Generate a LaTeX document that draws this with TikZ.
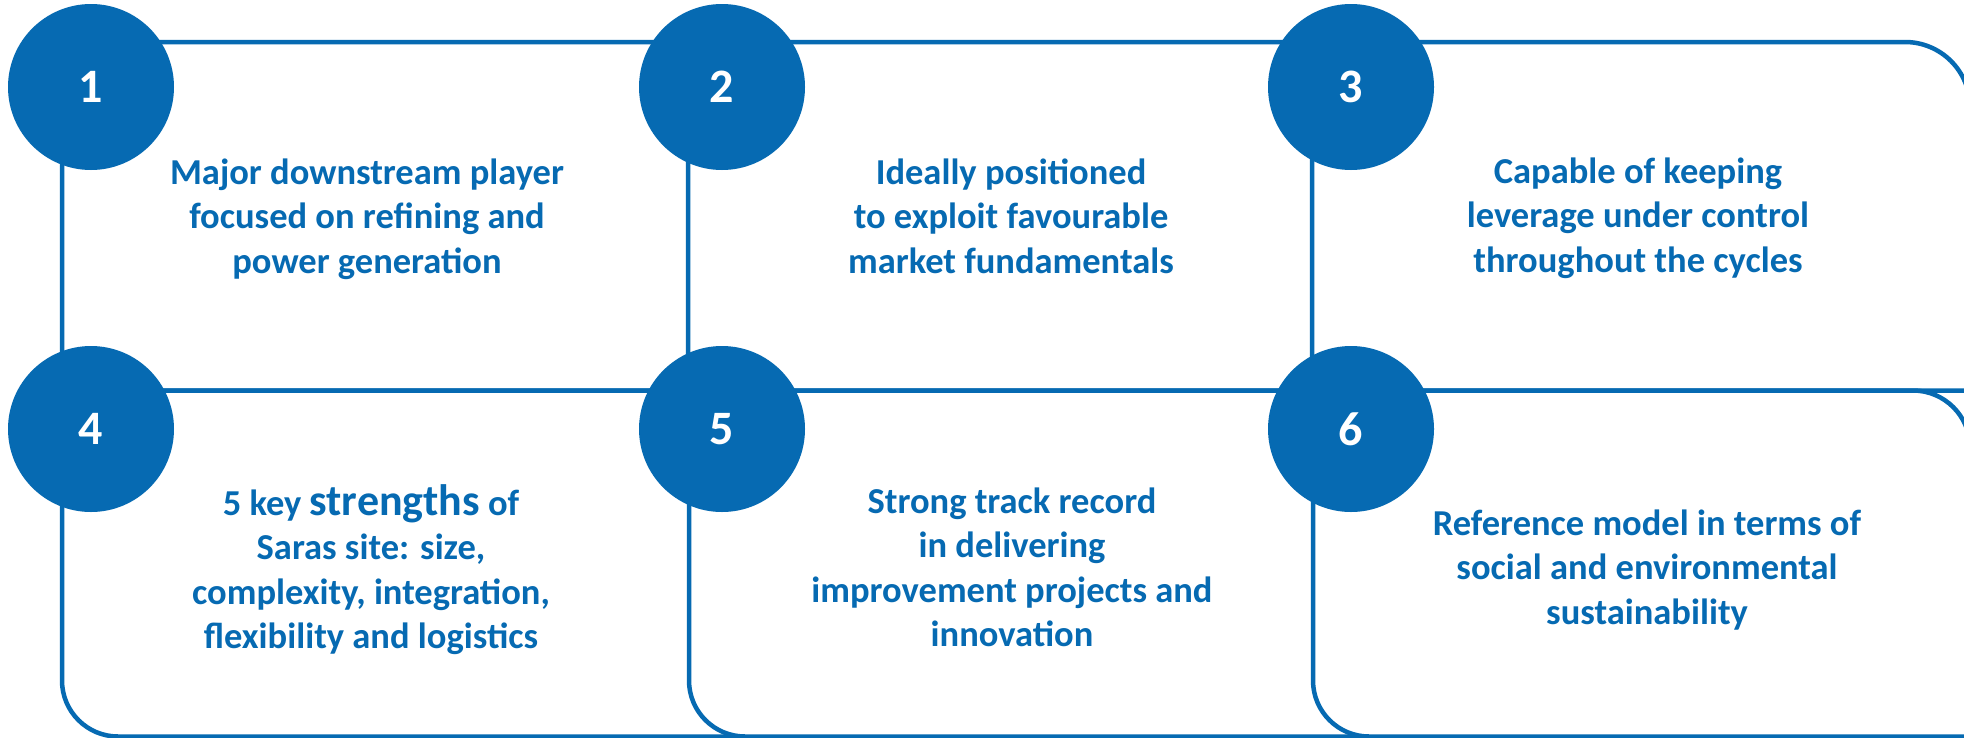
\documentclass[tikz,border=0pt]{standalone}
\usepackage{fontspec}
\setmainfont{Carlito}
\definecolor{sarasblue}{RGB}{6,106,178}
\tikzset{
  boxline/.style={draw=sarasblue, line width=4.5pt, fill=white},
  numcircle/.style={circle, fill=sarasblue, draw=none, minimum size=166pt, inner sep=0pt,
    text=white, font=\fontsize{48}{48}\selectfont\bfseries},
  desc/.style={anchor=base, inner sep=0pt, text=sarasblue,
    font=\fontsize{36.5}{44.5}\selectfont\bfseries}
}
% L R T B r(top-right) r(bottom-left)
\newcommand\sarasbox[6]{%
  \draw[boxline] (#1,#3) -- ({#2-#5},#3)
    .. controls ({#2-0.4477*#5},#3) and (#2,{#3+0.4477*#5}) .. (#2,{#3+#5})
    -- (#2,#4) -- ({#1+#6},#4)
    .. controls ({#1+0.4477*#6},#4) and (#1,{#4-0.4477*#6}) .. (#1,{#4-#6})
    -- cycle;}
\newcommand\lines[1]{\begin{tabular}[t]{@{}c@{}}#1\end{tabular}}
\begin{document}
\begin{tikzpicture}[x=1pt, y=-1pt]
\clip (0,0) rectangle (1964,737);
\fill[white] (0,0) rectangle (1964,737);
% boxes, row 1
\sarasbox{62}{780}{42}{390.5}{60}{20}
\sarasbox{688}{1400}{42}{390.5}{60}{20}
\sarasbox{1312}{1970}{42}{390.5}{65}{20}
% boxes, row 2
\sarasbox{62}{780}{390.5}{736.5}{56}{56}
\sarasbox{689}{1400}{390.5}{736.5}{56}{56}
\sarasbox{1313}{1970}{390.5}{736.5}{57}{56}
% numbered circles
\node[numcircle] (c1) at (91,87) {1};
\node[numcircle] (c2) at (722,87) {2};
\node[numcircle] (c3) at (1351,87) {3};
\node[numcircle] (c4) at (91,429) {4};
\node[numcircle] (c5) at (722,429) {5};
\node[numcircle] (c6) at (1351,429) {6};
% texts
\node[desc] (t1) at (367,184) {\lines{Major downstream player\\focused on refining and\\power generation}};
\node[desc] (t2) at (1011,184) {\lines{Ideally positioned\\to exploit favourable\\market fundamentals}};
\node[desc] (t3) at (1638,183) {\lines{Capable of keeping\\leverage under control\\throughout the cycles}};
\node[desc] (t4) at (371,515) {\lines{5 key {\fontsize{44}{44.5}\selectfont strengths} of\\Saras site: size,\\complexity, integration,\\flexibility and logistics}};
\node[desc] (t5) at (1012,513) {\lines{Strong track record\\in delivering\\improvement projects and\\innovation}};
\node[desc] (t6) at (1647,535) {\lines{Reference model in terms of\\social and environmental\\sustainability}};
\end{tikzpicture}
\end{document}
